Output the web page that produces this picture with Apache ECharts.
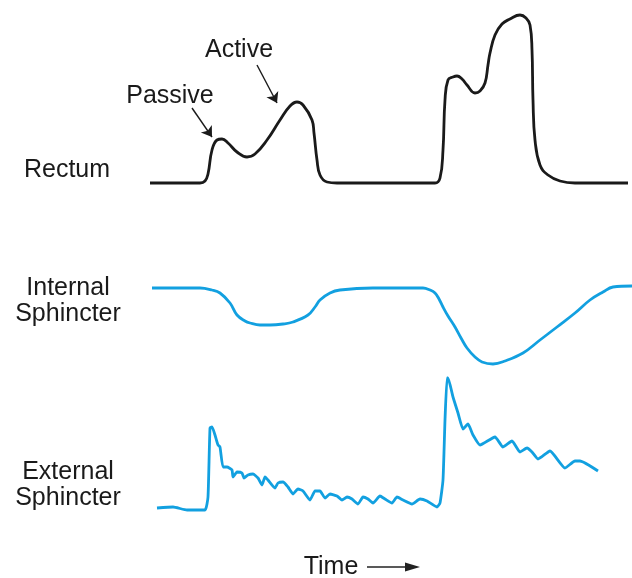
<!DOCTYPE html>
<html>
<head>
<meta charset="utf-8">
<script src="https://cdn.jsdelivr.net/npm/echarts@6/dist/echarts.min.js"></script>
<style>html,body{margin:0;padding:0;background:#fff;}#c{width:632px;height:578px;}</style>
</head>
<body>
<div id="c"></div>
<script>
// Time axis units (arbitrary), values in arbitrary pressure units
const rectum = [
  [0,7],[50,7],[55,9],[58,16],[62,40],[67,50],[72,51],[78,47],[87,38],[97,33],[105,36],
  [117,50],[130,70],[140,84],[147,88],[153,85],[162,70],[164,57],[167,30],[170,15],
  [177,8],[187,7],[285,7],[290,12],[293,40],[295,90],[298,110],[303,113],[307,114],[312,111],
  [317,105],[325,97],[330,99],[335,107],[338,125],[340,137],[345,155],[352,166],
  [360,171],[370,175],[376,172],[380,165],[382,140],[383,90],[385,50],[390,25],
  [398,15],[410,9],[425,7],[478,7]
];
const internalSphincter = [
  [2,92],[50,92],[62,90],[70,87],[80,77],[87,65],[95,59],[100,57],[110,55],[120,55],
  [133,56],[143,58],[158,65],[165,73],[170,80],[180,87],[190,90],[223,92],[273,92],
  [280,90],[285,87],[289,81],[293,73],[298,64],[305,53],[311,42],[317,32],[325,23],[332,18],[343,16],
  [355,19],[373,27],[390,40],[407,53],[425,67],[440,80],[453,88],[463,93],[482,94]
];
const externalSphincter = [
  [7,12],[23,13],[37,10],[55,10],[58,23],[60,92],[62,93],[65,85],[68,75],[70,73],
  [73,53],[77,53],[82,50],[83,43],[87,48],[92,47],[94,42],[98,45],[103,46],[108,42],
  [112,35],[115,43],[118,40],[125,32],[128,37],[133,38],[138,33],[143,26],[148,31],
  [153,29],[160,20],[165,29],[170,29],[175,22],[180,26],[187,24],[192,20],[197,23],
  [202,21],[208,16],[213,23],[218,21],[223,17],[230,24],[235,21],[242,17],[247,23],
  [253,20],[262,16],[270,21],[277,19],[287,13],[290,17],[293,40],[295,100],[297,142],
  [298,142],[303,123],[308,107],[313,91],[318,96],[323,85],[330,75],[345,83],[353,73],
  [362,79],[370,68],[377,72],[382,68],[388,61],[400,69],[415,52],[425,59],[430,59],[448,49]
];
const traceLabels = ['Rectum', 'Internal\nSphincter', 'External\nSphincter'];
const annotationLabels = ['Passive', 'Active'];
// arrows pointing at rectum peaks: [from, to] in data units
const passiveArrow = [[42,82],[62,53]];
const activeArrow = [[107,125],[127,87]];
const timeLabel = 'Time';

const FONT = "'Liberation Sans', Arial, Helvetica, sans-serif";
const BLUE = '#12a0e0';
const INK = '#1a1a1a';
const chart = echarts.init(document.getElementById('c'), null, {renderer: 'canvas'});

const axisX = (i) => ({gridIndex: i, type: 'value', min: 0, max: 482, show: false});
const label = (text, x, y) => ({type: 'text', x: x, y: y,
  style: {text: text, font: '25px ' + FONT, fill: '#1a1a1a', align: 'center', verticalAlign: 'middle', lineHeight: 26}});

chart.setOption({
  animation: false,
  backgroundColor: '#fff',
  grid: [
    {left: 150, width: 482, top: 10, height: 180},
    {left: 150, width: 482, top: 270, height: 110},
    {left: 150, width: 482, top: 370, height: 150}
  ],
  xAxis: [axisX(0), axisX(1), axisX(2)],
  yAxis: [
    {gridIndex: 0, type: 'value', min: 0, max: 180, show: false},
    {gridIndex: 1, type: 'value', min: 0, max: 110, show: false},
    {gridIndex: 2, type: 'value', min: 0, max: 150, show: false}
  ],
  series: [
    {
      type: 'line', xAxisIndex: 0, yAxisIndex: 0, data: rectum, smooth: 0.45,
      showSymbol: false, lineStyle: {color: INK, width: 2.8},
      markLine: {
        silent: true, symbol: ['none', 'arrow'], symbolSize: 10,
        label: {show: false},
        lineStyle: {color: INK, width: 1.4, type: 'solid', curveness: 0.2},
        emphasis: {disabled: true},
        data: [
          [{coord: passiveArrow[0], lineStyle: {curveness: 0.12}}, {coord: passiveArrow[1]}],
          [{coord: activeArrow[0], lineStyle: {curveness: 0.2}}, {coord: activeArrow[1]}]
        ]
      }
    },
    {
      type: 'line', xAxisIndex: 1, yAxisIndex: 1, data: internalSphincter, smooth: 0.4,
      showSymbol: false, lineStyle: {color: BLUE, width: 2.8}
    },
    {
      type: 'line', xAxisIndex: 2, yAxisIndex: 2, data: externalSphincter, smooth: 0.15,
      showSymbol: false, lineStyle: {color: BLUE, width: 2.8}
    }
  ],
  graphic: [
    label(traceLabels[0], 67, 170),
    label(traceLabels[1], 68, 301),
    label(traceLabels[2], 68, 485),
    label(annotationLabels[0], 170, 96),
    label(annotationLabels[1], 239, 50),
    label(timeLabel, 331, 567),
    {type: 'line', shape: {x1: 367, y1: 567, x2: 410, y2: 567}, style: {stroke: '#222', lineWidth: 1.4}},
    {type: 'polygon', shape: {points: [[420, 567], [405, 562.5], [405, 571.5]]}, style: {fill: '#222'}}
  ]
});
</script>
</body>
</html>
